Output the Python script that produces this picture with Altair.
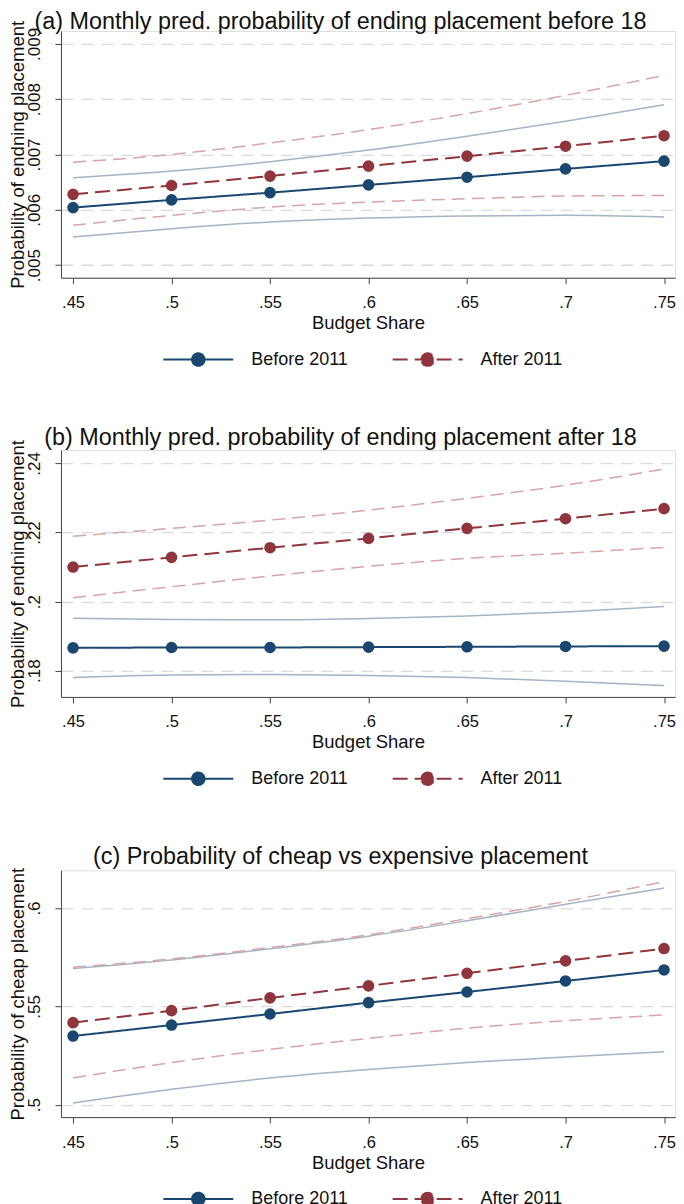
import altair as alt
import pandas as pd

# ---------------- data ----------------
budget = [0.45, 0.50, 0.55, 0.60, 0.65, 0.70, 0.75]
series_names = ["Before 2011", "After 2011"]

a_before = [0.00604, 0.00618, 0.00631, 0.00645, 0.00659, 0.00674, 0.00688]
a_before_hi = [0.00658, 0.00670, 0.00687, 0.00708, 0.00733, 0.00760, 0.00790]
a_before_lo = [0.00551, 0.00566, 0.00578, 0.00585, 0.00589, 0.00590, 0.00587]
a_after = [0.00628, 0.00644, 0.00661, 0.00679, 0.00697, 0.00715, 0.00734]
a_after_hi = [0.00686, 0.00700, 0.00721, 0.00745, 0.00774, 0.00807, 0.00843]
a_after_lo = [0.00572, 0.00590, 0.00605, 0.00614, 0.00620, 0.00625, 0.00626]

b_before = [0.1866, 0.1867, 0.1867, 0.1868, 0.1869, 0.1870, 0.1871]
b_before_hi = [0.1952, 0.1948, 0.1947, 0.1951, 0.1958, 0.1970, 0.1986]
b_before_lo = [0.1780, 0.1787, 0.1789, 0.1786, 0.1780, 0.1769, 0.1757]
b_after = [0.2100, 0.2128, 0.2156, 0.2183, 0.2212, 0.2240, 0.2269]
b_after_hi = [0.2189, 0.2212, 0.2236, 0.2265, 0.2299, 0.2337, 0.2384]
b_after_lo = [0.2011, 0.2043, 0.2074, 0.2102, 0.2125, 0.2140, 0.2157]

c_before = [0.5349, 0.5405, 0.5461, 0.5519, 0.5573, 0.5629, 0.5685]
c_before_hi = [0.5692, 0.5736, 0.5793, 0.5857, 0.5935, 0.6019, 0.6102]
c_before_lo = [0.5008, 0.5078, 0.5136, 0.5179, 0.5214, 0.5243, 0.5269]
c_after = [0.5417, 0.5478, 0.5543, 0.5604, 0.5668, 0.5731, 0.5794]
c_after_hi = [0.5699, 0.5741, 0.5799, 0.5864, 0.5946, 0.6034, 0.6134]
c_after_lo = [0.5136, 0.5214, 0.5281, 0.5337, 0.5389, 0.5427, 0.5456]

x_ticks = budget
a_yticks = [0.005, 0.006, 0.007, 0.008, 0.009]
b_yticks = [0.18, 0.20, 0.22, 0.24]
c_yticks = [0.50, 0.55, 0.60]

x_domain = [0.44386, 0.75557]
a_ydomain = [0.004772, 0.009234]
b_ydomain = [0.17238, 0.24386]
c_ydomain = [0.49367, 0.61918]

titles = [
    "(a) Monthly pred. probability of ending placement before 18",
    "(b) Monthly pred. probability of ending placement after 18",
    "(c) Probability of cheap vs expensive placement",
]
ytitles = [
    "Probability of endning placement",
    "Probability of endning placement",
    "Probability of cheap placement",
]

# ---------------- styles ----------------
NAVY = "#1a476f"
MAROON = "#90353b"
NAVY_CI = "#a3b4c5"
MAROON_CI = "#d8a4a8"
FONT = "Liberation Sans"
LABEL_EXPR = "replace(format(datum.value, '~g'), '0.', '.')"
LEGEND_SYMBOL = "M-7,0L7,0M-1.25,0A1.25,1.25,0,1,1,1.25,0A1.25,1.25,0,1,1,-1.25,0Z"


def panel(title, ytitle, before, b_hi, b_lo, after, a_hi, a_lo, ydomain, yticks, title_offset):
    n = len(budget)
    main = pd.DataFrame({
        "budget": budget * 2,
        "value": before + after,
        "series": [series_names[0]] * n + [series_names[1]] * n,
    })
    ci_before = pd.DataFrame({
        "budget": budget * 2,
        "value": b_hi + b_lo,
        "bound": ["upper"] * n + ["lower"] * n,
    })
    ci_after = pd.DataFrame({
        "budget": budget * 2,
        "value": a_hi + a_lo,
        "bound": ["upper"] * n + ["lower"] * n,
    })

    x = alt.X(
        "budget:Q",
        scale=alt.Scale(domain=x_domain, nice=False, zero=False),
        axis=alt.Axis(
            title="Budget Share", values=x_ticks, labelExpr=LABEL_EXPR,
            grid=False, tickSize=6, labelPadding=11, titlePadding=2.5,
            labelFontSize=16.5, titleFontSize=18.5, labelFont=FONT, titleFont=FONT,
            titleFontWeight="normal", labelColor="#111", titleColor="#111",
            domainColor="#444", tickColor="#444", labelFlush=False,
        ),
    )
    y = alt.Y(
        "value:Q",
        scale=alt.Scale(domain=ydomain, nice=False, zero=False),
        axis=alt.Axis(
            title=ytitle, values=yticks, labelExpr=LABEL_EXPR,
            grid=True, gridColor="#dadada", gridDash=[12, 8], gridWidth=1.3,
            tickSize=6, labelPadding=15.5, titlePadding=-2.5,
            labelAngle=270, labelAlign="center", labelBaseline="alphabetic",
            labelFontSize=17, titleFontSize=18.5, labelFont=FONT, titleFont=FONT,
            titleFontWeight="normal", labelColor="#111", titleColor="#111",
            domainColor="#444", tickColor="#444", labelFlush=False,
        ),
    )
    legend = alt.Legend(
        title=None, orient="none", direction="horizontal",
        legendX=102.2, legendY=319.5,
        symbolType=LEGEND_SYMBOL, symbolSize=100, symbolStrokeWidth=2,
        symbolOffset=26.25, labelOffset=44, columnPadding=40.5,
        labelFont=FONT, labelFontSize=18, labelColor="#111", labelLimit=0,
    )
    color = alt.Color("series:N", scale=alt.Scale(domain=series_names, range=[NAVY, MAROON]), legend=legend)
    dash = alt.StrokeDash("series:N", scale=alt.Scale(domain=series_names, range=[[1, 0], [15, 7]]), legend=legend)

    ci_b = alt.Chart(ci_before).mark_line(color=NAVY_CI, strokeWidth=1.5, interpolate="monotone").encode(
        x=x, y=y, detail="bound:N")
    ci_a = alt.Chart(ci_after).mark_line(color=MAROON_CI, strokeWidth=1.5, strokeDash=[13, 7],
                                         interpolate="monotone").encode(x=x, y=y, detail="bound:N")
    lines = alt.Chart(main).mark_line(strokeWidth=2).encode(x=x, y=y, color=color, strokeDash=dash)
    pts = alt.Chart(main).mark_point(filled=True, size=135, opacity=1).encode(x=x, y=y, color=color)

    return alt.layer(ci_b, ci_a, lines, pts).properties(
        width=614.5, height=247,
        title=alt.TitleParams(
            text=title, font=FONT, fontSize=23.4, fontWeight="normal", color="#111",
            anchor="middle", frame="group", dx=-27.5, offset=title_offset, baseline="alphabetic",
        ),
    )


pa = panel(titles[0], ytitles[0], a_before, a_before_hi, a_before_lo, a_after, a_after_hi, a_after_lo,
           a_ydomain, a_yticks, -32)
pb = panel(titles[1], ytitles[1], b_before, b_before_hi, b_before_lo, b_after, b_after_hi, b_after_lo,
           b_ydomain, b_yticks, -28.8)
pc = panel(titles[2], ytitles[2], c_before, c_before_hi, c_before_lo, c_after, c_after_hi, c_after_lo,
           c_ydomain, c_yticks, -20.4)

chart = alt.vconcat(pa, pb, pc, spacing=54.5).resolve_scale(
    x="independent", y="independent", color="independent", strokeDash="independent"
).resolve_legend(color="independent", strokeDash="independent").properties(
    padding={"left": 0, "top": 0.5, "right": 0, "bottom": 0},
).configure_view(stroke=None).configure(background="white")

chart.save("out.html", embed_options={"renderer": "svg", "actions": False})
